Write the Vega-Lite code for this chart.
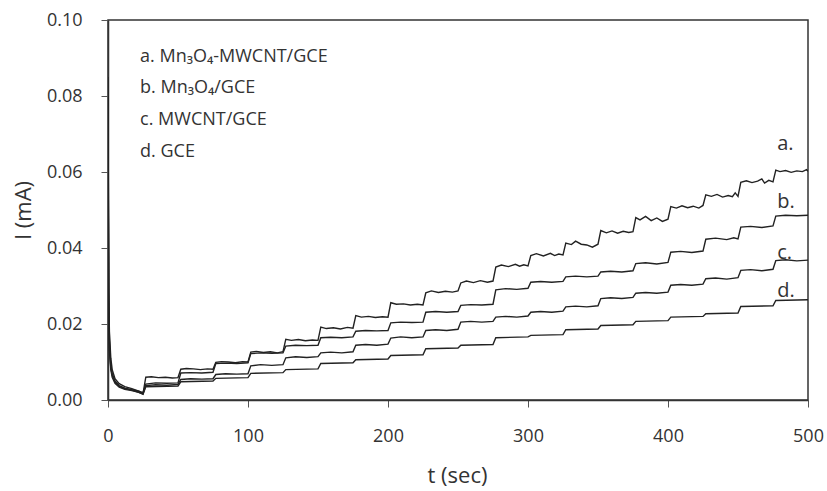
{
  "$schema": "https://vega.github.io/schema/vega-lite/v6.json",
  "width": 700,
  "height": 380,
  "autosize": {"type": "none"},
  "padding": {"left": 108, "top": 20, "right": 19, "bottom": 91},
  "background": "white",
  "config": {
    "view": {"stroke": "#333", "strokeWidth": 1.5},
    "font": "Open Sans",
    "axis": {"grid": false, "domainColor": "#333", "domainWidth": 1.5, "tickColor": "#555", "tickSize": 7, "tickWidth": 1,
      "labelFont": "Open Sans", "labelFontSize": 18, "labelColor": "#333", "titleFont": "Open Sans", "titleFontSize": 22,
      "titleFontWeight": "normal", "titleColor": "#333", "labelFlush": false, "labelOverlap": false}
  },
  "datasets": {
    "curves": [
      {"s":"a","t":0,"i":0.085},{"s":"a","t":0.5,"i":0.03},{"s":"a","t":1,"i":0.018},{"s":"a","t":2,"i":0.011},{"s":"a","t":3,"i":0.0080},{"s":"a","t":5,"i":0.0056},{"s":"a","t":8,"i":0.0043},{"s":"a","t":12,"i":0.0035},{"s":"a","t":17,"i":0.0030},{"s":"a","t":22,"i":0.0023},{"s":"a","t":25,"i":0.0017},
      {"s":"a","t":27,"i":0.0060},{"s":"a","t":31,"i":0.0061},{"s":"a","t":36,"i":0.0059},{"s":"a","t":41,"i":0.0060},{"s":"a","t":46,"i":0.0058},{"s":"a","t":50,"i":0.0059},
      {"s":"a","t":52,"i":0.0081},{"s":"a","t":56,"i":0.0083},{"s":"a","t":61,"i":0.0082},{"s":"a","t":66,"i":0.0080},{"s":"a","t":71,"i":0.0082},{"s":"a","t":75,"i":0.0081},
      {"s":"a","t":77,"i":0.0099},{"s":"a","t":81,"i":0.0101},{"s":"a","t":86,"i":0.0100},{"s":"a","t":91,"i":0.0098},{"s":"a","t":96,"i":0.0101},{"s":"a","t":100,"i":0.0100},
      {"s":"a","t":102,"i":0.0126},{"s":"a","t":106,"i":0.0128},{"s":"a","t":111,"i":0.0125},{"s":"a","t":116,"i":0.0127},{"s":"a","t":121,"i":0.0124},{"s":"a","t":125,"i":0.0127},
      {"s":"a","t":127,"i":0.0160},{"s":"a","t":131,"i":0.0157},{"s":"a","t":136,"i":0.0159},{"s":"a","t":141,"i":0.0156},{"s":"a","t":146,"i":0.0158},{"s":"a","t":150,"i":0.0157},
      {"s":"a","t":152,"i":0.0192},{"s":"a","t":156,"i":0.0188},{"s":"a","t":161,"i":0.0190},{"s":"a","t":166,"i":0.0187},{"s":"a","t":171,"i":0.0191},{"s":"a","t":175,"i":0.0189},
      {"s":"a","t":177,"i":0.0222},{"s":"a","t":181,"i":0.0218},{"s":"a","t":186,"i":0.0220},{"s":"a","t":191,"i":0.0217},{"s":"a","t":196,"i":0.0219},{"s":"a","t":200,"i":0.0218},
      {"s":"a","t":202,"i":0.0256},{"s":"a","t":206,"i":0.0252},{"s":"a","t":211,"i":0.0253},{"s":"a","t":216,"i":0.0250},{"s":"a","t":221,"i":0.0252},{"s":"a","t":225,"i":0.0250},
      {"s":"a","t":227,"i":0.0282},{"s":"a","t":231,"i":0.0287},{"s":"a","t":236,"i":0.0283},{"s":"a","t":241,"i":0.0286},{"s":"a","t":246,"i":0.0284},{"s":"a","t":250,"i":0.0287},
      {"s":"a","t":252,"i":0.0308},{"s":"a","t":256,"i":0.0313},{"s":"a","t":261,"i":0.0309},{"s":"a","t":266,"i":0.0314},{"s":"a","t":271,"i":0.0310},{"s":"a","t":275,"i":0.0313},
      {"s":"a","t":277,"i":0.0350},{"s":"a","t":281,"i":0.0355},{"s":"a","t":286,"i":0.0351},{"s":"a","t":291,"i":0.0357},{"s":"a","t":294,"i":0.0352},{"s":"a","t":297,"i":0.0356},{"s":"a","t":300,"i":0.0353},
      {"s":"a","t":302,"i":0.0380},{"s":"a","t":306,"i":0.0385},{"s":"a","t":311,"i":0.0379},{"s":"a","t":316,"i":0.0386},{"s":"a","t":319,"i":0.0380},{"s":"a","t":322,"i":0.0384},{"s":"a","t":325,"i":0.0382},
      {"s":"a","t":327,"i":0.0413},{"s":"a","t":331,"i":0.0409},{"s":"a","t":334,"i":0.0418},{"s":"a","t":338,"i":0.0410},{"s":"a","t":342,"i":0.0408},{"s":"a","t":346,"i":0.0402},{"s":"a","t":350,"i":0.0410},
      {"s":"a","t":352,"i":0.0446},{"s":"a","t":356,"i":0.0440},{"s":"a","t":360,"i":0.0445},{"s":"a","t":364,"i":0.0439},{"s":"a","t":368,"i":0.0444},{"s":"a","t":372,"i":0.0441},{"s":"a","t":375,"i":0.0443},
      {"s":"a","t":377,"i":0.0480},{"s":"a","t":380,"i":0.0474},{"s":"a","t":384,"i":0.0483},{"s":"a","t":388,"i":0.0472},{"s":"a","t":392,"i":0.0479},{"s":"a","t":396,"i":0.0470},{"s":"a","t":400,"i":0.0476},
      {"s":"a","t":402,"i":0.0509},{"s":"a","t":406,"i":0.0505},{"s":"a","t":410,"i":0.0511},{"s":"a","t":414,"i":0.0506},{"s":"a","t":418,"i":0.0510},{"s":"a","t":422,"i":0.0505},{"s":"a","t":425,"i":0.0512},
      {"s":"a","t":427,"i":0.0540},{"s":"a","t":431,"i":0.0536},{"s":"a","t":435,"i":0.0541},{"s":"a","t":439,"i":0.0534},{"s":"a","t":443,"i":0.0538},{"s":"a","t":446,"i":0.0535},{"s":"a","t":448,"i":0.0545},{"s":"a","t":450,"i":0.0536},
      {"s":"a","t":452,"i":0.0573},{"s":"a","t":456,"i":0.0577},{"s":"a","t":460,"i":0.0572},{"s":"a","t":464,"i":0.0576},{"s":"a","t":467,"i":0.0582},{"s":"a","t":469,"i":0.0571},{"s":"a","t":472,"i":0.0578},{"s":"a","t":475,"i":0.0574},
      {"s":"a","t":477,"i":0.0605},{"s":"a","t":480,"i":0.0601},{"s":"a","t":484,"i":0.0604},{"s":"a","t":488,"i":0.0599},{"s":"a","t":492,"i":0.0603},{"s":"a","t":496,"i":0.0601},{"s":"a","t":499,"i":0.0606},{"s":"a","t":500,"i":0.0602},

      {"s":"b","t":0,"i":0.08},{"s":"b","t":0.5,"i":0.028},{"s":"b","t":1,"i":0.016},{"s":"b","t":2,"i":0.009},{"s":"b","t":3,"i":0.007},{"s":"b","t":5,"i":0.0050},{"s":"b","t":8,"i":0.0038},{"s":"b","t":12,"i":0.0031},{"s":"b","t":17,"i":0.0027},{"s":"b","t":22,"i":0.0023},{"s":"b","t":25,"i":0.0019},
      {"s":"b","t":27,"i":0.0042},{"s":"b","t":34,"i":0.0045},{"s":"b","t":42,"i":0.0044},{"s":"b","t":50,"i":0.0045},
      {"s":"b","t":52,"i":0.0071},{"s":"b","t":59,"i":0.0072},{"s":"b","t":67,"i":0.0071},{"s":"b","t":75,"i":0.0073},
      {"s":"b","t":77,"i":0.0096},{"s":"b","t":84,"i":0.0097},{"s":"b","t":92,"i":0.0096},{"s":"b","t":100,"i":0.0098},
      {"s":"b","t":102,"i":0.0122},{"s":"b","t":109,"i":0.0124},{"s":"b","t":117,"i":0.0123},{"s":"b","t":125,"i":0.0124},
      {"s":"b","t":127,"i":0.0142},{"s":"b","t":134,"i":0.0144},{"s":"b","t":142,"i":0.0143},{"s":"b","t":150,"i":0.0144},
      {"s":"b","t":152,"i":0.0164},{"s":"b","t":159,"i":0.0165},{"s":"b","t":167,"i":0.0164},{"s":"b","t":175,"i":0.0166},
      {"s":"b","t":177,"i":0.0181},{"s":"b","t":184,"i":0.0183},{"s":"b","t":192,"i":0.0182},{"s":"b","t":200,"i":0.0183},
      {"s":"b","t":202,"i":0.0203},{"s":"b","t":209,"i":0.0205},{"s":"b","t":217,"i":0.0204},{"s":"b","t":225,"i":0.0205},
      {"s":"b","t":227,"i":0.0231},{"s":"b","t":234,"i":0.0233},{"s":"b","t":242,"i":0.0231},{"s":"b","t":250,"i":0.0233},
      {"s":"b","t":252,"i":0.0249},{"s":"b","t":259,"i":0.0251},{"s":"b","t":267,"i":0.0250},{"s":"b","t":275,"i":0.0252},
      {"s":"b","t":277,"i":0.0290},{"s":"b","t":284,"i":0.0293},{"s":"b","t":292,"i":0.0291},{"s":"b","t":300,"i":0.0294},
      {"s":"b","t":302,"i":0.0310},{"s":"b","t":309,"i":0.0312},{"s":"b","t":317,"i":0.0310},{"s":"b","t":325,"i":0.0312},
      {"s":"b","t":327,"i":0.0324},{"s":"b","t":334,"i":0.0326},{"s":"b","t":342,"i":0.0324},{"s":"b","t":350,"i":0.0326},
      {"s":"b","t":352,"i":0.0337},{"s":"b","t":359,"i":0.0339},{"s":"b","t":367,"i":0.0337},{"s":"b","t":375,"i":0.0340},
      {"s":"b","t":377,"i":0.0359},{"s":"b","t":384,"i":0.0361},{"s":"b","t":392,"i":0.0358},{"s":"b","t":400,"i":0.0362},
      {"s":"b","t":402,"i":0.0389},{"s":"b","t":409,"i":0.0391},{"s":"b","t":417,"i":0.0388},{"s":"b","t":425,"i":0.0392},
      {"s":"b","t":427,"i":0.0423},{"s":"b","t":434,"i":0.0426},{"s":"b","t":442,"i":0.0422},{"s":"b","t":447,"i":0.0427},{"s":"b","t":450,"i":0.0424},
      {"s":"b","t":452,"i":0.0455},{"s":"b","t":459,"i":0.0457},{"s":"b","t":467,"i":0.0454},{"s":"b","t":475,"i":0.0458},
      {"s":"b","t":477,"i":0.0484},{"s":"b","t":484,"i":0.0486},{"s":"b","t":492,"i":0.0485},{"s":"b","t":500,"i":0.0486},

      {"s":"c","t":0,"i":0.075},{"s":"c","t":0.5,"i":0.025},{"s":"c","t":1,"i":0.014},{"s":"c","t":2,"i":0.0085},{"s":"c","t":3,"i":0.0065},{"s":"c","t":5,"i":0.0047},{"s":"c","t":8,"i":0.0036},{"s":"c","t":12,"i":0.0030},{"s":"c","t":17,"i":0.0026},{"s":"c","t":22,"i":0.0020},{"s":"c","t":25,"i":0.0016},
      {"s":"c","t":27,"i":0.0038},{"s":"c","t":34,"i":0.0040},{"s":"c","t":42,"i":0.0039},{"s":"c","t":50,"i":0.0041},
      {"s":"c","t":52,"i":0.0054},{"s":"c","t":59,"i":0.0056},{"s":"c","t":67,"i":0.0055},{"s":"c","t":75,"i":0.0056},
      {"s":"c","t":77,"i":0.0067},{"s":"c","t":84,"i":0.0069},{"s":"c","t":92,"i":0.0068},{"s":"c","t":100,"i":0.0069},
      {"s":"c","t":102,"i":0.0090},{"s":"c","t":109,"i":0.0093},{"s":"c","t":117,"i":0.0091},{"s":"c","t":125,"i":0.0093},
      {"s":"c","t":127,"i":0.0111},{"s":"c","t":134,"i":0.0114},{"s":"c","t":142,"i":0.0112},{"s":"c","t":150,"i":0.0114},
      {"s":"c","t":152,"i":0.0124},{"s":"c","t":159,"i":0.0126},{"s":"c","t":167,"i":0.0124},{"s":"c","t":175,"i":0.0127},
      {"s":"c","t":177,"i":0.0144},{"s":"c","t":184,"i":0.0146},{"s":"c","t":192,"i":0.0144},{"s":"c","t":200,"i":0.0147},
      {"s":"c","t":202,"i":0.0163},{"s":"c","t":209,"i":0.0166},{"s":"c","t":217,"i":0.0164},{"s":"c","t":225,"i":0.0166},
      {"s":"c","t":227,"i":0.0183},{"s":"c","t":234,"i":0.0185},{"s":"c","t":242,"i":0.0183},{"s":"c","t":250,"i":0.0186},
      {"s":"c","t":252,"i":0.0205},{"s":"c","t":259,"i":0.0207},{"s":"c","t":267,"i":0.0205},{"s":"c","t":275,"i":0.0207},
      {"s":"c","t":277,"i":0.0218},{"s":"c","t":284,"i":0.0220},{"s":"c","t":292,"i":0.0218},{"s":"c","t":300,"i":0.0221},
      {"s":"c","t":302,"i":0.0231},{"s":"c","t":309,"i":0.0233},{"s":"c","t":317,"i":0.0231},{"s":"c","t":325,"i":0.0234},
      {"s":"c","t":327,"i":0.0245},{"s":"c","t":334,"i":0.0247},{"s":"c","t":342,"i":0.0245},{"s":"c","t":350,"i":0.0248},
      {"s":"c","t":352,"i":0.0267},{"s":"c","t":359,"i":0.0269},{"s":"c","t":367,"i":0.0267},{"s":"c","t":375,"i":0.0270},
      {"s":"c","t":377,"i":0.0281},{"s":"c","t":384,"i":0.0283},{"s":"c","t":392,"i":0.0281},{"s":"c","t":400,"i":0.0284},
      {"s":"c","t":402,"i":0.0302},{"s":"c","t":409,"i":0.0304},{"s":"c","t":417,"i":0.0302},{"s":"c","t":425,"i":0.0305},
      {"s":"c","t":427,"i":0.0319},{"s":"c","t":434,"i":0.0321},{"s":"c","t":442,"i":0.0318},{"s":"c","t":450,"i":0.0322},
      {"s":"c","t":452,"i":0.0341},{"s":"c","t":459,"i":0.0343},{"s":"c","t":467,"i":0.0340},{"s":"c","t":475,"i":0.0344},
      {"s":"c","t":477,"i":0.0367},{"s":"c","t":484,"i":0.0369},{"s":"c","t":492,"i":0.0366},{"s":"c","t":500,"i":0.0368},

      {"s":"d","t":0,"i":0.07},{"s":"d","t":0.5,"i":0.022},{"s":"d","t":1,"i":0.013},{"s":"d","t":2,"i":0.008},{"s":"d","t":3,"i":0.006},{"s":"d","t":5,"i":0.0044},{"s":"d","t":8,"i":0.0034},{"s":"d","t":12,"i":0.0028},{"s":"d","t":17,"i":0.0025},{"s":"d","t":22,"i":0.0020},{"s":"d","t":25,"i":0.0015},
      {"s":"d","t":27,"i":0.0035},{"s":"d","t":50,"i":0.0037},
      {"s":"d","t":52,"i":0.0048},{"s":"d","t":75,"i":0.0050},
      {"s":"d","t":77,"i":0.0057},{"s":"d","t":100,"i":0.0059},
      {"s":"d","t":102,"i":0.0070},{"s":"d","t":125,"i":0.0072},
      {"s":"d","t":127,"i":0.0080},{"s":"d","t":150,"i":0.0082},
      {"s":"d","t":152,"i":0.0096},{"s":"d","t":175,"i":0.0098},
      {"s":"d","t":177,"i":0.0106},{"s":"d","t":200,"i":0.0108},
      {"s":"d","t":202,"i":0.0117},{"s":"d","t":225,"i":0.0119},
      {"s":"d","t":227,"i":0.0135},{"s":"d","t":250,"i":0.0137},
      {"s":"d","t":252,"i":0.0144},{"s":"d","t":275,"i":0.0146},
      {"s":"d","t":277,"i":0.0164},{"s":"d","t":300,"i":0.0166},
      {"s":"d","t":302,"i":0.0170},{"s":"d","t":325,"i":0.0172},
      {"s":"d","t":327,"i":0.0185},{"s":"d","t":350,"i":0.0187},
      {"s":"d","t":352,"i":0.0196},{"s":"d","t":375,"i":0.0198},
      {"s":"d","t":377,"i":0.0207},{"s":"d","t":400,"i":0.0209},
      {"s":"d","t":402,"i":0.0218},{"s":"d","t":425,"i":0.0220},
      {"s":"d","t":427,"i":0.0227},{"s":"d","t":450,"i":0.0229},
      {"s":"d","t":452,"i":0.0246},{"s":"d","t":475,"i":0.0248},
      {"s":"d","t":477,"i":0.0262},{"s":"d","t":500,"i":0.0264}
    ],
    "legend": [
      {"label": "a. Mn₃O₄-MWCNT/GCE", "t": 22.9, "i": 0.08895},
      {"label": "b. Mn₃O₄/GCE", "t": 22.9, "i": 0.08066},
      {"label": "c. MWCNT/GCE", "t": 22.9, "i": 0.07237},
      {"label": "d. GCE", "t": 22.9, "i": 0.06382}
    ],
    "labels": [
      {"label": "a.", "t": 478, "i": 0.0658},
      {"label": "b.", "t": 478, "i": 0.0505},
      {"label": "c.", "t": 478, "i": 0.0372},
      {"label": "d.", "t": 478, "i": 0.0271}
    ]
  },
  "layer": [
    {
      "data": {"name": "curves"},
      "mark": {"type": "line", "color": "#222", "strokeWidth": 1.4, "clip": true},
      "encoding": {
        "x": {"field": "t", "type": "quantitative", "scale": {"domain": [0, 500], "nice": false},
          "axis": {"values": [0, 100, 200, 300, 400, 500], "title": "t (sec)", "labelPadding": 20,
            "titleX": 349, "titleY": 75, "titleBaseline": "middle", "titleAnchor": null}},
        "y": {"field": "i", "type": "quantitative", "scale": {"domain": [0, 0.1], "nice": false},
          "axis": {"values": [0, 0.02, 0.04, 0.06, 0.08, 0.1], "format": ".2f", "title": "I (mA)", "labelPadding": 19,
            "titleAngle": -90, "titleX": -85, "titleY": 190, "titleBaseline": "middle", "titleAlign": "center"}},
        "detail": {"field": "s"}
      }
    },
    {
      "data": {"name": "legend"},
      "mark": {"type": "text", "align": "left", "baseline": "alphabetic", "fontSize": 18, "color": "#333", "font": "Open Sans"},
      "encoding": {
        "x": {"field": "t", "type": "quantitative"},
        "y": {"field": "i", "type": "quantitative"},
        "text": {"field": "label"}
      }
    },
    {
      "data": {"name": "labels"},
      "mark": {"type": "text", "align": "left", "baseline": "alphabetic", "fontSize": 20, "color": "#333", "font": "Open Sans"},
      "encoding": {
        "x": {"field": "t", "type": "quantitative"},
        "y": {"field": "i", "type": "quantitative"},
        "text": {"field": "label"}
      }
    }
  ]
}
